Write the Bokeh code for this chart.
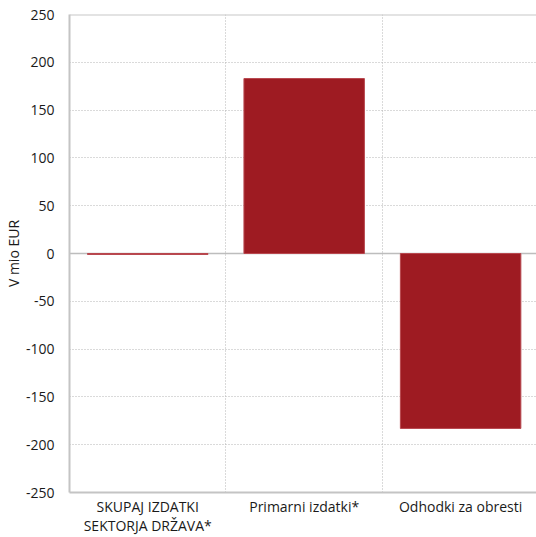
from bokeh.plotting import figure
from bokeh.models import FixedTicker, Range1d, Span, ColumnDataSource
from bokeh.embed import file_html
from bokeh.resources import INLINE

# Data
categories = ["SKUPAJ IZDATKI\nSEKTORJA DRŽAVA*", "Primarni izdatki*", "Odhodki za obresti"]
values = [-1, 183, -183]
y_ticks = [-250, -200, -150, -100, -50, 0, 50, 100, 150, 200, 250]

FONT = "Open Sans"
GRID = "#b4b4b4"
BAR = "#9e1b22"
TXT = "#1a1a1a"

positions = [i + 0.5 for i in range(len(categories))]
src = ColumnDataSource(dict(x=positions, top=values))

p = figure(width=536, height=537, output_backend="svg", toolbar_location=None,
           x_range=Range1d(0, 2.985), y_range=Range1d(-250, 250),
           min_border_left=68, min_border_right=0, min_border_top=14, min_border_bottom=45)
p.outline_line_color = None
p.background_fill_color = "white"

# bars
p.vbar(x="x", top="top", bottom=0, width=0.77, source=src,
       fill_color=BAR, line_color="#b8474e", line_width=1)

# grid
p.xgrid.ticker = FixedTicker(ticks=[1, 2])
p.xgrid.grid_line_color = GRID
p.xgrid.grid_line_dash = "1 2"
p.ygrid.ticker = FixedTicker(ticks=[t for t in y_ticks if t not in (0, 250, -250)])
p.ygrid.grid_line_color = GRID
p.ygrid.grid_line_dash = "1 2"

# zero line and top border
p.add_layout(Span(location=0, dimension="width", line_color="#bdbdbd", line_width=1.5, level="underlay"))
p.add_layout(Span(location=250, dimension="width", line_color="#c8c8c8", line_width=2))

# y axis
p.yaxis.ticker = FixedTicker(ticks=y_ticks)
p.yaxis.major_label_overrides = {t: str(t) for t in y_ticks}
p.yaxis.axis_line_color = "#c4c4c4"
p.yaxis.axis_line_width = 2
p.yaxis.major_tick_line_color = None
p.yaxis.minor_tick_line_color = None
p.yaxis.major_tick_in = 0
p.yaxis.major_tick_out = 0
p.yaxis.major_label_standoff = 15
p.yaxis.major_label_text_font = FONT
p.yaxis.major_label_text_font_size = "14px"
p.yaxis.major_label_text_color = TXT
p.yaxis.axis_label = "V mio EUR"
p.yaxis.axis_label_text_font = FONT
p.yaxis.axis_label_text_font_size = "14px"
p.yaxis.axis_label_text_font_style = "normal"
p.yaxis.axis_label_text_color = TXT
p.yaxis.axis_label_standoff = 0

# x axis
p.xaxis.ticker = FixedTicker(ticks=positions)
p.xaxis.major_label_overrides = {pos: lab for pos, lab in zip(positions, categories)}
p.xaxis.axis_line_color = "#c4c4c4"
p.xaxis.axis_line_width = 2
p.xaxis.major_tick_line_color = None
p.xaxis.minor_tick_line_color = None
p.xaxis.major_tick_in = 0
p.xaxis.major_tick_out = 0
p.xaxis.major_label_standoff = 4
p.xaxis.major_label_text_font = FONT
p.xaxis.major_label_text_font_size = "14px"
p.xaxis.major_label_text_line_height = 1.0
p.xaxis.major_label_text_color = TXT

open("out.html", "w").write(file_html(p, INLINE))
